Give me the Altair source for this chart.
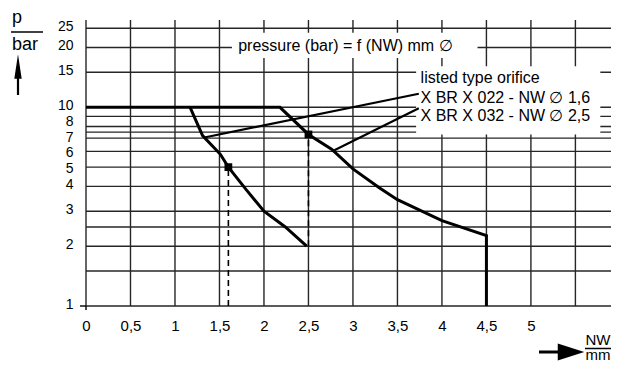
import altair as alt
import pandas as pd

# ---------------- data ----------------
x_tick_values = [0, 0.5, 1, 1.5, 2, 2.5, 3, 3.5, 4, 4.5, 5]
x_grid_values = [0, 0.5, 1, 1.5, 2, 2.5, 3, 3.5, 4, 4.5, 5, 5.5]
y_tick_values = [1, 2, 3, 4, 5, 6, 7, 8, 10, 15, 20, 25]
y_grid_values = [1, 1.5, 2, 2.5, 3, 4, 5, 6, 7, 7.5, 8, 9, 10, 15, 20, 25]

# curve X BR X 022 (NW 1,6)
nw_022 = [1.17, 1.31, 1.51, 1.6, 1.8, 2.0, 2.24, 2.48]
p_022 = [10, 7.2, 5.8, 5.0, 3.85, 3.0, 2.5, 2.0]

# curve X BR X 032 (NW 2,5) incl. 10 bar plateau and drop at 4,5
nw_032 = [0, 2.18, 2.5, 2.76, 3.0, 3.3, 3.5, 4.0, 4.5, 4.5]
p_032 = [10, 10, 7.3, 6.15, 4.9, 3.93, 3.43, 2.69, 2.26, 1.0]

# marked operating points and their dashed drop lines
mark_nw = [1.6, 2.5]
mark_p = [5.0, 7.3]
drop_p_low = [1.0, 2.0]

# leader lines from curves to the legend text
leader_nw_start = [1.33, 2.78]
leader_p_start = [7.05, 6.05]
leader_nw_end = [3.74, 3.74]
leader_p_end = [11.7, 9.9]

title_text = "pressure (bar) = f (NW) mm \u2205"
legend_lines = ["listed type orifice",
                "X BR X 022 - NW \u2205 1,6",
                "X BR X 032 - NW \u2205 2,5"]
legend_p = [14.0, 11.2, 9.04]

# ---------------- chart ----------------
W, H = 525, 286
FONT = "Liberation Sans"
xs = alt.Scale(domain=[0, 5.9], nice=False, zero=False)
ys = alt.Scale(type="log", domain=[1, 27.5], nice=False)
GRID = "#262626"

y_label_offset = {
    "condition": [
        {"test": "datum.value == 8", "value": -5.1},
        {"test": "datum.value == 7", "value": -0.7},
        {"test": "datum.value == 6", "value": 1.6},
        {"test": "datum.value == 5", "value": 1.8},
        {"test": "datum.value == 4", "value": -1.5},
    ],
    "value": -2,
}

y_axis = alt.Axis(values=y_tick_values, grid=False, ticks=False, domain=False,
                  labelFontSize=14, labelFont=FONT, labelColor="black",
                  labelPadding=13, labelOverlap=False, labelFlush=False,
                  labelOffset=y_label_offset, title=None)
x_axis = alt.Axis(values=x_tick_values, grid=False, ticks=False, domain=False,
                  labelFontSize=15, labelFont=FONT, labelColor="black",
                  labelPadding=12, labelOverlap=False, labelFlush=False,
                  labelExpr="replace(toString(datum.value), '.', ',')", title=None)


def X(field):
    return alt.X(field, scale=xs, axis=x_axis)


def Y(field):
    return alt.Y(field, scale=ys, axis=y_axis)


hgrid = alt.Chart(pd.DataFrame({"p": y_grid_values})).mark_rule(
    color=GRID, strokeWidth=1.4).encode(y=Y("p:Q"))

vgrid = alt.Chart(pd.DataFrame({"nw": x_grid_values})).mark_rule(
    color=GRID, strokeWidth=1.4).encode(x=X("nw:Q"))

boxes = alt.Chart(pd.DataFrame({
    "x1": [1.64, 3.71], "x2": [4.4, 5.78],
    "y1": [17.7, 7.3], "y2": [23.7, 16.1]})).mark_rect(fill="white").encode(
    x=X("x1:Q"), x2="x2:Q", y=Y("y1:Q"), y2="y2:Q")

df_a = pd.DataFrame({"nw": nw_022, "p": p_022, "i": range(len(nw_022))})
df_b = pd.DataFrame({"nw": nw_032, "p": p_032, "i": range(len(nw_032))})

curve_a = alt.Chart(df_a).mark_line(color="black", strokeWidth=3).encode(
    x=X("nw:Q"), y=Y("p:Q"), order="i:Q")
curve_b = alt.Chart(df_b).mark_line(color="black", strokeWidth=3).encode(
    x=X("nw:Q"), y=Y("p:Q"), order="i:Q")

df_m = pd.DataFrame({"nw": mark_nw, "p": mark_p, "lo": drop_p_low})
drops = alt.Chart(df_m).mark_rule(color="black", strokeWidth=1.6,
                                  strokeDash=[6, 4]).encode(
    x=X("nw:Q"), y=Y("lo:Q"), y2="p:Q")
markers = alt.Chart(df_m).mark_square(color="black", size=60, opacity=1).encode(
    x=X("nw:Q"), y=Y("p:Q"))

df_l = pd.DataFrame({"x1": leader_nw_start, "y1": leader_p_start,
                     "x2": leader_nw_end, "y2": leader_p_end})
leaders = alt.Chart(df_l).mark_rule(color="black", strokeWidth=2.2).encode(
    x=X("x1:Q"), y=Y("y1:Q"), x2="x2:Q", y2="y2:Q")

title = alt.Chart(pd.DataFrame({"t": [title_text], "nw": [1.71], "p": [20.3]})).mark_text(
    align="left", baseline="middle", fontSize=16, font=FONT, color="black").encode(
    x=X("nw:Q"), y=Y("p:Q"), text="t:N")

legend = alt.Chart(pd.DataFrame({"t": legend_lines, "p": legend_p,
                                 "nw": [3.76] * 3})).mark_text(
    align="left", baseline="middle", fontSize=16, font=FONT, color="black").encode(
    x=X("nw:Q"), y=Y("p:Q"), text="t:N")

one = pd.DataFrame({"t": [""]})


def label(txt, x, y, size, align="left", baseline="alphabetic"):
    return alt.Chart(one).mark_text(text=txt, align=align, baseline=baseline,
                                    fontSize=size, font=FONT, color="black").encode(
        x=alt.value(x), y=alt.value(y))


def seg(x1, x2, y1, y2, w):
    return alt.Chart(one).mark_rule(color="black", strokeWidth=w).encode(
        x=alt.value(x1), x2=alt.value(x2), y=alt.value(y1), y2=alt.value(y2))


def head(x, y, shape, size):
    return alt.Chart(one).mark_point(shape=shape, size=size, filled=True,
                                     color="black", opacity=1, strokeWidth=0).encode(
        x=alt.value(x), y=alt.value(y))


deco = [
    label("p", -74, -11.5, 18, baseline="top"),
    seg(-75, -43, 12, 12, 1.5),
    label("bar", -74, 30, 18),
    seg(-68, -68, 55, 75, 2.2),
    head(-68, 46.5, "M-0.3,1L0,-1L0.3,1Z", 600),
    label("NW", 512, 327.5, 15, align="center", baseline="bottom"),
    seg(499, 525, 328.5, 328.5, 1.5),
    label("mm", 512, 343, 15, align="center", baseline="bottom"),
    seg(453, 477, 332, 332, 3),
    head(485, 332, "M-1,-0.65L1,0L-1,0.65Z", 700),
    seg(-6, 0, H, H, 1.4),
    seg(0, 0, H, H + 4, 1.4),
]

chart = alt.layer(hgrid, vgrid, boxes, curve_b, curve_a, drops, markers,
                  leaders, title, legend, *deco).properties(
    width=W, height=H,
    autosize=alt.AutoSizeParams(type="none"),
    padding={"left": 78, "top": 12, "right": 0, "bottom": 57},
).configure_view(stroke=None)

chart.save("out.html", embed_options={"renderer": "svg", "actions": False})
